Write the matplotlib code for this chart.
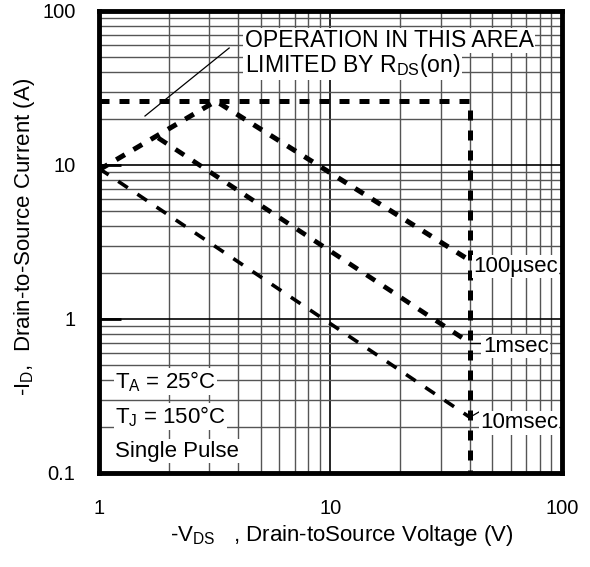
import matplotlib
matplotlib.use("Agg")
import matplotlib.pyplot as plt
from matplotlib.ticker import LogLocator, NullFormatter, FixedLocator, FixedFormatter

plt.rcParams['font.family'] = ['Liberation Sans', 'DejaVu Sans']
plt.rcParams['mathtext.fontset'] = 'custom'
plt.rcParams['mathtext.rm'] = 'Liberation Sans'
plt.rcParams['mathtext.it'] = 'Liberation Sans'

# --- data ---
limit_v = [1, 40, 40]
limit_i = [26, 26, 0.1]

us100_v = [1, 3.2, 40]
us100_i = [9.3, 26, 2.4]

ms1_v = [1.8, 40]
ms1_i = [15, 0.7]

ms10_v = [1, 40]
ms10_i = [9.5, 0.23]

x_ticks = [1, 10, 100]
x_labels = ["1", "10", "100"]
y_ticks = [0.1, 1, 10, 100]
y_labels = ["0.1", "1", "10", "100"]

fig = plt.figure(figsize=(5.9, 5.67), dpi=100)
ax = fig.add_axes([0.1678, 0.1658, 0.7847, 0.8148])
ax.set_xscale('log')
ax.set_yscale('log')
ax.set_xlim(1, 100)
ax.set_ylim(0.1, 100)

ax.xaxis.set_major_locator(FixedLocator(x_ticks))
ax.xaxis.set_major_formatter(FixedFormatter(x_labels))
ax.yaxis.set_major_locator(FixedLocator(y_ticks))
ax.yaxis.set_major_formatter(FixedFormatter(y_labels))
ax.xaxis.set_minor_locator(LogLocator(base=10, subs=range(2, 10)))
ax.yaxis.set_minor_locator(LogLocator(base=10, subs=range(2, 10)))
ax.xaxis.set_minor_formatter(NullFormatter())
ax.yaxis.set_minor_formatter(NullFormatter())

ax.grid(True, which='major', color='black', linewidth=1.2)
ax.grid(True, which='minor', color='#555555', linewidth=1.0)
ax.tick_params(axis='x', which='both', length=0, pad=19, labelsize=14.5)
ax.tick_params(axis='y', which='major', direction='in', length=16, width=2,
               pad=17, labelsize=14.5)
ax.tick_params(axis='y', which='minor', length=0)
for s in ax.spines.values():
    s.set_linewidth(3.5)

ax.plot(limit_v, limit_i, color='black', linewidth=3.6, linestyle=(0, (2, 2)))
ax.plot(us100_v, us100_i, color='black', linewidth=3.6, linestyle=(0, (2, 2)))
ax.plot(ms1_v, ms1_i, color='black', linewidth=3.4, linestyle=(0, (2.2, 2.2)))
ax.plot(ms10_v, ms10_i, color='black', linewidth=2.6, linestyle=(0, (3.2, 3.2)))

# leader for the R_DS(on) note
ax.plot([1.58, 3.65], [20.8, 57.5], color='black', linewidth=0.9)
# short leaders to the pulse labels
ax.plot([40, 45], [0.7, 0.7], color='black', linewidth=0.9)
ax.plot([40, 44], [0.23, 0.25], color='black', linewidth=0.9)

box = dict(facecolor='white', edgecolor='none', pad=1.0)
fs = 16
ax.text(0.315, 0.922, "OPERATION IN THIS AREA", transform=ax.transAxes,
        fontsize=16.6, va='baseline', ha='left', bbox=box)
ax.text(0.315, 0.868, r"LIMITED BY R$_{\mathrm{DS}}$(on)", transform=ax.transAxes,
        fontsize=16.6, va='baseline', ha='left', bbox=box)

ax.text(0.808, 0.435, "100µsec", transform=ax.transAxes, fontsize=fs,
        va='baseline', ha='left', bbox=box)
ax.text(0.829, 0.262, "1msec", transform=ax.transAxes, fontsize=fs,
        va='baseline', ha='left', bbox=box)
ax.text(0.823, 0.097, "10msec", transform=ax.transAxes, fontsize=fs,
        va='baseline', ha='left', bbox=box)

ax.text(0.035, 0.184, r"T$_{\mathrm{A}}$ = 25°C", transform=ax.transAxes,
        fontsize=fs, va='baseline', ha='left', bbox=box)
ax.text(0.035, 0.108, r"T$_{\mathrm{J}}$ = 150°C", transform=ax.transAxes,
        fontsize=fs, va='baseline', ha='left', bbox=box)
ax.text(0.035, 0.035, "Single Pulse", transform=ax.transAxes,
        fontsize=fs, va='baseline', ha='left', bbox=box)

ax.set_xlabel(r"-V$_{\mathrm{DS}}$   , Drain-toSource Voltage (V)", fontsize=fs)
ax.set_ylabel(r"-I$_{\mathrm{D}}$,  Drain-to-Source Current (A)", fontsize=fs)
ax.xaxis.set_label_coords(0.525, -0.108)
ax.yaxis.set_label_coords(-0.134, 0.51)

fig.savefig("out.png", dpi=100)
